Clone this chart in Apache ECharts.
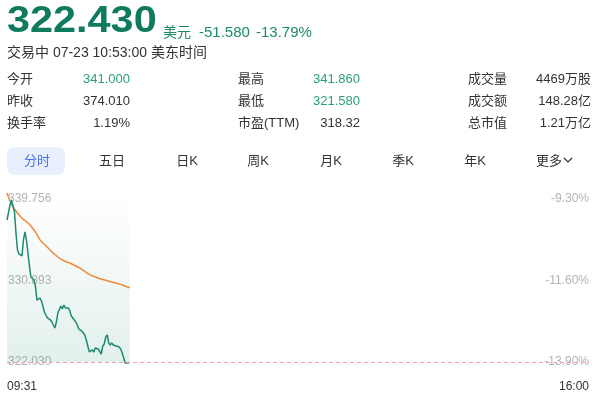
<!DOCTYPE html>
<html>
<head>
<meta charset="utf-8">
<script src="https://cdn.jsdelivr.net/npm/echarts@6.0.0/dist/echarts.min.js"></script>
<style>
  html, body { margin: 0; padding: 0; background: #fff; }
  body { width: 600px; height: 398px; position: relative; overflow: hidden;
         font-family: "Liberation Sans", Arial, "Noto Sans CJK SC", sans-serif; color: #333; }
  .t { position: absolute; white-space: nowrap; }
  .g { color: #1b8a6b; }
  .v { text-align: right; }
  .tab { position: absolute; width: 60px; text-align: center; font-size: 13px; line-height: 14px; top: 154px; color: #333; }
  #chart { position: absolute; left: 0; top: 0; width: 600px; height: 398px; }
</style>
</head>
<body>
<div id="chart"></div>

<!-- 头部行情 -->
<div class="t" style="left:7px;top:2px;font-size:36px;line-height:36px;font-weight:700;color:#0f7a5d;transform:scaleX(1.15);transform-origin:0 0;">322.430</div>
<div class="t g" style="left:163px;top:25px;font-size:14px;line-height:14px;">美元</div>
<div class="t g" style="left:199px;top:24px;font-size:15px;line-height:15px;">-51.580</div>
<div class="t g" style="left:256px;top:24px;font-size:15px;line-height:15px;">-13.79%</div>
<div class="t" style="left:7px;top:45px;font-size:14px;line-height:14px;">交易中 07-23 10:53:00 美东时间</div>

<div class="t" style="left:7px;top:72px;font-size:13px;line-height:14px;">今开</div>
<div class="t v" style="left:40px;width:90px;top:72px;font-size:13px;line-height:14px;color:#2a9d7e;">341.000</div>
<div class="t" style="left:7px;top:94px;font-size:13px;line-height:14px;">昨收</div>
<div class="t v" style="left:40px;width:90px;top:94px;font-size:13px;line-height:14px;">374.010</div>
<div class="t" style="left:7px;top:116px;font-size:13px;line-height:14px;">换手率</div>
<div class="t v" style="left:40px;width:90px;top:116px;font-size:13px;line-height:14px;">1.19%</div>

<div class="t" style="left:238px;top:72px;font-size:13px;line-height:14px;">最高</div>
<div class="t v" style="left:270px;width:90px;top:72px;font-size:13px;line-height:14px;color:#2a9d7e;">341.860</div>
<div class="t" style="left:238px;top:94px;font-size:13px;line-height:14px;">最低</div>
<div class="t v" style="left:270px;width:90px;top:94px;font-size:13px;line-height:14px;color:#2a9d7e;">321.580</div>
<div class="t" style="left:238px;top:116px;font-size:13px;line-height:14px;">市盈(TTM)</div>
<div class="t v" style="left:270px;width:90px;top:116px;font-size:13px;line-height:14px;">318.32</div>

<div class="t" style="left:468px;top:72px;font-size:13px;line-height:14px;">成交量</div>
<div class="t v" style="left:500px;width:91px;top:72px;font-size:13px;line-height:14px;">4469万股</div>
<div class="t" style="left:468px;top:94px;font-size:13px;line-height:14px;">成交额</div>
<div class="t v" style="left:500px;width:91px;top:94px;font-size:13px;line-height:14px;">148.28亿</div>
<div class="t" style="left:468px;top:116px;font-size:13px;line-height:14px;">总市值</div>
<div class="t v" style="left:500px;width:91px;top:116px;font-size:13px;line-height:14px;">1.21万亿</div>

<!-- 周期切换 -->
<div class="t" style="left:7px;top:147px;width:58px;height:28px;border-radius:8px;background:#e8effd;"></div>
<div class="tab" style="left:7px;color:#4a6cf0;">分时</div>
<div class="tab" style="left:82px;">五日</div>
<div class="tab" style="left:157px;">日K</div>
<div class="tab" style="left:228px;">周K</div>
<div class="tab" style="left:301px;">月K</div>
<div class="tab" style="left:373px;">季K</div>
<div class="tab" style="left:445px;">年K</div>
<div class="t" style="left:536px;top:154px;font-size:13px;line-height:14px;">更多</div>
<svg class="t" style="left:563px;top:157px;" width="10" height="7"><polyline points="1,1 5,5 9,1" fill="none" stroke="#333" stroke-width="1.2"/></svg>

<script>
// 时间轴 09:31 - 16:00
const times = [];
for (let m = 9 * 60 + 31; m <= 16 * 60; m++) {
  times.push(String(Math.floor(m / 60)).padStart(2, '0') + ':' + String(m % 60).padStart(2, '0'));
}

// 分时价格
const priceData = [
  337.47, 337.47, 339.10, 339.65, 339.00, 338.34, 336.06, 334.21, 333.78, 333.78,
  333.56, 335.30, 336.17, 335.30, 333.88, 332.47, 331.27, 331.06, 330.95, 330.30,
  328.77, 328.56, 328.99, 328.66, 328.12, 327.47, 327.14, 326.82, 326.71, 326.60,
  326.38, 326.05, 325.73, 326.38, 327.36, 327.25, 328.12, 327.79, 328.23, 327.90,
  328.01, 327.90, 327.58, 327.03, 326.82, 326.60, 326.38, 326.05, 325.62, 325.51,
  325.40, 325.40, 324.97, 324.42, 323.77, 323.12, 323.23, 323.34, 323.12, 323.55,
  323.34, 323.44, 323.23, 322.90, 323.77, 323.99, 324.75, 324.97, 324.10, 323.88,
  324.10, 323.88, 323.99, 323.77, 323.88, 323.66, 323.44, 323.01, 322.47, 321.92,
  321.81, 321.92, 322.03
];

// 均价线
const avgData = [
  340.41, 339.97, 339.54, 339.21, 338.94, 338.67, 338.45, 338.23, 338.02, 337.85,
  337.69, 337.53, 337.40, 337.28, 337.15, 337.00, 336.82, 336.60, 336.39, 336.17,
  335.90, 335.62, 335.33, 335.13, 334.97, 334.81, 334.67, 334.54, 334.34, 334.18,
  334.01, 333.86, 333.72, 333.58, 333.45, 333.32, 333.21, 333.12, 333.04, 332.96,
  332.91, 332.85, 332.80, 332.72, 332.63, 332.55, 332.47, 332.38, 332.31, 332.22,
  332.11, 332.00, 331.89, 331.77, 331.65, 331.55, 331.47, 331.40, 331.34, 331.27,
  331.22, 331.15, 331.09, 331.05, 331.00, 330.96, 330.91, 330.86, 330.82, 330.77,
  330.73, 330.69, 330.64, 330.60, 330.57, 330.52, 330.47, 330.41, 330.35, 330.27,
  330.21, 330.14, 330.10
];

const priceTicks = [322.030, 330.893, 339.756];
const pctTicks = [-13.90, -11.60, -9.30];
const refLine = 322.030;

const FONT = '"Liberation Sans", Arial, "Noto Sans CJK SC", sans-serif';
let myChart = echarts.init(document.getElementById('chart'));

myChart.setOption({
  animation: false,
  grid: { left: 7, right: 11, top: 199, bottom: 36, outerBoundsMode: 'none' },
  xAxis: {
    type: 'category',
    data: times,
    boundaryGap: false,
    axisLine: { show: false },
    axisTick: { show: false },
    splitLine: { show: false },
    axisLabel: {
      color: '#333',
      fontSize: 12,
      fontFamily: FONT,
      margin: 19,
      interval: function (i) { return i === 0 || i === times.length - 1; },
      alignMinLabel: 'left',
      alignMaxLabel: 'right'
    }
  },
  yAxis: [{
    type: 'value',
    min: priceTicks[0],
    max: priceTicks[2],
    position: 'left',
    axisLine: { show: false },
    axisTick: { show: false },
    splitLine: { show: false },
    axisLabel: {
      inside: true,
      margin: 1,
      color: '#b4b4b4',
      fontSize: 12,
      fontFamily: FONT,
      customValues: priceTicks,
      formatter: function (v) { return v.toFixed(3); }
    }
  }, {
    type: 'value',
    min: pctTicks[0],
    max: pctTicks[2],
    position: 'right',
    axisLine: { show: false },
    axisTick: { show: false },
    splitLine: { show: false },
    axisLabel: {
      inside: true,
      margin: 0,
      color: '#b4b4b4',
      fontSize: 12,
      fontFamily: FONT,
      customValues: pctTicks,
      formatter: function (v) { return v.toFixed(2) + '%'; }
    }
  }],
  series: [{
    name: '价格',
    type: 'line',
    data: priceData,
    showSymbol: false,
    clip: false,
    lineStyle: { color: '#1f8a70', width: 1.5 },
    markArea: {
      silent: true,
      itemStyle: {
        color: new echarts.graphic.LinearGradient(0, 0, 0, 1, [
          { offset: 0, color: 'rgba(31,138,112,0)' },
          { offset: 1, color: 'rgba(31,138,112,0.13)' }
        ])
      },
      data: [[{ xAxis: times[0], yAxis: priceTicks[2] }, { xAxis: times[priceData.length - 1], yAxis: priceTicks[0] }]]
    },
    markLine: {
      silent: true,
      symbol: ['none', 'none'],
      label: { show: false },
      lineStyle: { color: '#f4a2a2', type: [4, 3], width: 1 },
      data: [{ yAxis: refLine }]
    },
    z: 3
  }, {
    name: '均价',
    type: 'line',
    data: avgData,
    showSymbol: false,
    clip: false,
    lineStyle: { color: '#f0883a', width: 1.5 },
    z: 2
  }]
});
</script>
</body>
</html>
